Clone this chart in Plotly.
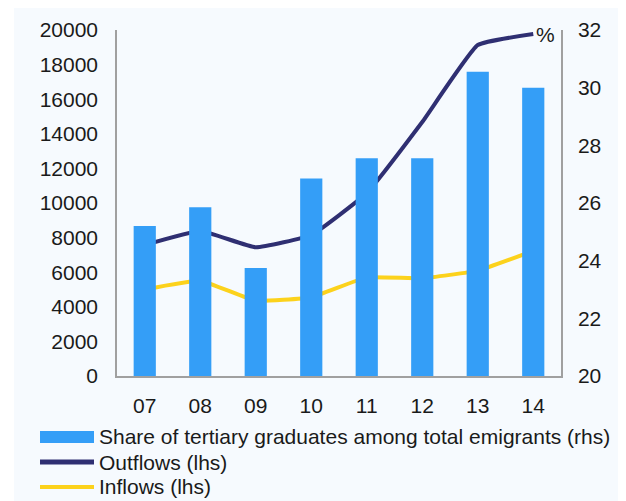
import plotly.graph_objects as go

years = ["07", "08", "09", "10", "11", "12", "13", "14"]
share_tertiary = [25.2, 25.85, 23.75, 26.85, 27.55, 27.55, 30.55, 30.0]
outflows = [7570, 8380, 7440, 8150, 10580, 14680, 19130, 19770]
inflows = [5010, 5510, 4350, 4550, 5700, 5650, 6090, 7230]

FONT = "Liberation Sans, Arial, sans-serif"
BAR_COLOR = "#349ef7"
OUT_COLOR = "#2f2f72"
IN_COLOR = "#fcd21c"
TEXT_COLOR = "#1a1a1a"

NAME_BAR = "Share of tertiary graduates among total emigrants (rhs)"
NAME_OUT = "Outflows (lhs)"
NAME_IN = "Inflows (lhs)"

fig = go.Figure()
fig.add_trace(go.Bar(
    x=years, y=share_tertiary, yaxis="y2", name=NAME_BAR,
    marker=dict(color=BAR_COLOR, line=dict(width=0)), width=0.4,
))
fig.add_trace(go.Scatter(
    x=years, y=outflows, mode="lines", name=NAME_OUT,
    line=dict(color=OUT_COLOR, width=4, shape="spline", smoothing=0.35),
))
fig.add_trace(go.Scatter(
    x=years, y=inflows, mode="lines", name=NAME_IN,
    line=dict(color=IN_COLOR, width=4, shape="spline", smoothing=0.35),
))

# Legend drawn like the original: wide swatches, tight rows
legend_rows = [
    (NAME_BAR, BAR_COLOR, 12, -0.1763),
    (NAME_OUT, OUT_COLOR, 5, -0.2486),
    (NAME_IN, IN_COLOR, 4, -0.3208),
]
shapes = [
    dict(type="rect", xref="paper", yref="paper", x0=-0.3, x1=-0.232,
         y0=-0.5, y1=1.2, fillcolor="white", line=dict(width=0), layer="below"),
]
annotations = [
    dict(text="%", xref="paper", yref="paper", x=0.966, y=0.988,
         xanchor="center", yanchor="middle", showarrow=False,
         font=dict(size=21, family=FONT, color=TEXT_COLOR)),
]
for name, color, lw, yy in legend_rows:
    shapes.append(dict(type="line", xref="paper", yref="paper",
                       x0=-0.1734, x1=-0.0518, y0=yy, y1=yy,
                       line=dict(color=color, width=lw)))
    annotations.append(dict(text=name, xref="paper", yref="paper",
                            x=-0.0428, y=yy, xanchor="left", yanchor="middle",
                            showarrow=False, borderpad=0,
                            font=dict(size=21, family=FONT, color=TEXT_COLOR)))

fig.update_layout(
    width=618, height=493,
    margin=dict(l=109, r=65, t=22, b=125, pad=0, autoexpand=False),
    paper_bgcolor="#f6fafe", plot_bgcolor="#f6fafe",
    font=dict(family=FONT, size=21, color=TEXT_COLOR),
    showlegend=False,
    xaxis=dict(type="category", range=[-0.5, 7.5], showline=True,
               linecolor="#a0a0a0", linewidth=1.5, showgrid=False,
               ticks="outside", ticklen=10, tickcolor="rgba(0,0,0,0)",
               zeroline=False),
    yaxis=dict(range=[0, 20000], dtick=2000, showline=True,
               linecolor="#a0a0a0", linewidth=1.5, showgrid=False,
               ticks="outside", ticklen=13, tickcolor="rgba(0,0,0,0)",
               zeroline=False, tickformat="d"),
    yaxis2=dict(range=[20, 32], dtick=2, overlaying="y", side="right",
                showline=True, linecolor="#a0a0a0", linewidth=1.5,
                showgrid=False, ticks="outside", ticklen=11,
                tickcolor="rgba(0,0,0,0)", zeroline=False),
    annotations=annotations,
    shapes=shapes,
)

fig.write_html("out.html")
